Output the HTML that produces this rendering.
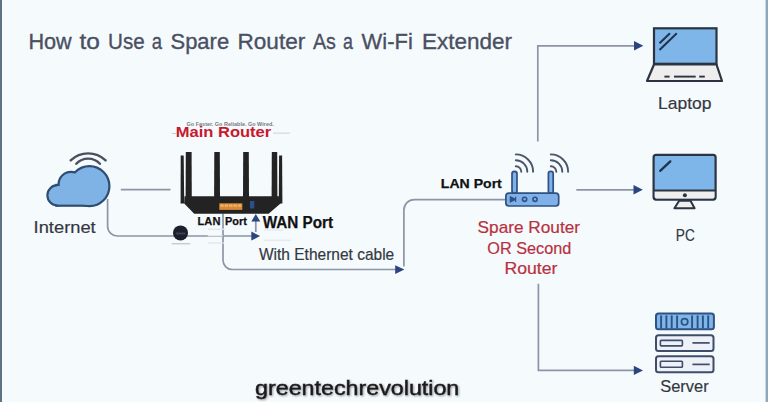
<!DOCTYPE html>
<html><head><meta charset="utf-8">
<style>
html,body{margin:0;padding:0;width:768px;height:402px;overflow:hidden;background:#f5fafd;}
svg{display:block;position:absolute;left:0;top:0;}
text{font-family:"Liberation Sans",sans-serif;}
</style></head>
<body>
<svg width="768" height="402" viewBox="0 0 768 402">
  <rect x="0" y="0" width="768" height="402" fill="#f5fafd"/>
  <rect x="0" y="0" width="2" height="402" fill="#5f7282"/>
  <rect x="765.6" y="0" width="2.4" height="402" fill="#8ea7bc"/>

  <!-- Title -->
  <g fill="#4a4f62" stroke="#4a4f62" stroke-width="0.35">
    <text id="tw0" font-size="22.91" x="28.40" y="48.80" textLength="43.30" lengthAdjust="spacingAndGlyphs">How</text>
    <text id="tw1" font-size="22.91" x="79.50" y="48.80" textLength="20.40" lengthAdjust="spacingAndGlyphs">to</text>
    <text id="tw2" font-size="22.91" x="108.10" y="48.80" textLength="36.60" lengthAdjust="spacingAndGlyphs">Use</text>
    <text id="tw3" font-size="22.91" x="151.80" y="48.80" textLength="10.30" lengthAdjust="spacingAndGlyphs">a</text>
    <text id="tw4" font-size="22.91" x="170.50" y="48.80" textLength="58.60" lengthAdjust="spacingAndGlyphs">Spare</text>
    <text id="tw5" font-size="22.91" x="237.50" y="48.80" textLength="67.80" lengthAdjust="spacingAndGlyphs">Router</text>
    <text id="tw6" font-size="22.91" x="312.90" y="48.80" textLength="23.00" lengthAdjust="spacingAndGlyphs">As</text>
    <text id="tw7" font-size="22.91" x="343.10" y="48.80" textLength="9.90" lengthAdjust="spacingAndGlyphs">a</text>
    <text id="tw8" font-size="22.91" x="361.60" y="48.80" textLength="51.20" lengthAdjust="spacingAndGlyphs">Wi-Fi</text>
    <text id="tw9" font-size="22.91" x="422.00" y="48.80" textLength="90.10" lengthAdjust="spacingAndGlyphs">Extender</text>
  </g>
  <!-- connector lines -->
  <g fill="none" stroke="#8d94a6" stroke-width="1.7">
    <!-- cloud to main router horizontal -->
    <line x1="120.8" y1="189.7" x2="170.5" y2="189.7"/>
    <!-- cloud bottom down then right to WAN arrow -->
    <path d="M107.6 199 V226.3 A9.7 9.7 0 0 0 117.3 236 H252"/>
    <!-- WAN up arrow shaft -->
    <line x1="255.8" y1="220" x2="255.8" y2="232"/>
    <!-- LAN port down, across to spare router -->
    <path d="M223 213.5 V260.3 A9.2 9.2 0 0 0 232.2 269.5 H396"/>
    <path d="M403.9 266.5 V210 A10.4 10.4 0 0 1 414.3 199.6 H506"/>
    <!-- spare router to PC -->
    <line x1="576.3" y1="189.8" x2="636" y2="189.8"/>
    <!-- vertical trunk up to laptop -->
    <path d="M537.8 141.6 V45.8 H636"/>
    <!-- down to server -->
    <path d="M538.4 283.8 V370.4 H636"/>
  </g>
  <g fill="#2d457f">
    <path d="M404.4 269.6 L395.2 265.2 L395.2 274 Z"/>
    <path d="M643.3 45.8 L634 41.1 L634 50.5 Z"/>
    <path d="M642.8 189.8 L633.5 185.1 L633.5 194.5 Z"/>
    <path d="M643 370.4 L633.8 365.7 L633.8 375.1 Z"/>
    <path d="M260.1 236.1 L251.3 231.6 L251.3 240.6 Z"/>
    <path d="M255.8 214.1 L251.3 221.4 L260.3 221.4 Z"/>
  </g>

  <!-- Cloud -->
  <g stroke="#2f4d70" stroke-width="4.4" fill="#2f4d70">
    <circle cx="57.5" cy="195.3" r="9"/>
    <circle cx="71" cy="184.2" r="11.3"/>
    <circle cx="89.4" cy="186.2" r="18.9"/>
    <rect x="57.5" y="186" width="33" height="18.6"/>
  </g>
  <g fill="#7fb3e6">
    <circle cx="57.5" cy="195.3" r="9"/>
    <circle cx="71" cy="184.2" r="11.3"/>
    <circle cx="89.4" cy="186.2" r="18.9"/>
    <rect x="57.5" y="186" width="33" height="18.6"/>
  </g>
  <g fill="none" stroke="#4a505e" stroke-width="2.4" stroke-linecap="round">
    <path d="M70.7 160.4 A25.2 25.2 0 0 1 105.6 160.4"/>
    <path d="M76.3 163.8 A16.1 16.1 0 0 1 99.9 163.8"/>
  </g>
  <text id="t_internet" x="33.60" y="232.70" font-size="17.17" fill="#34373f" stroke="#34373f" stroke-width="0.18" textLength="62.10" lengthAdjust="spacingAndGlyphs">Internet</text>

  <!-- Main router image -->
  <text id="t_go" x="186.60" y="126.00" font-size="5.70" font-weight="bold" fill="#777b80" textLength="87.20" lengthAdjust="spacingAndGlyphs">Go Faster. Go Reliable. Go Wired.</text>
  <rect x="172" y="133" width="4" height="1" fill="#c9c9cc"/>
  <rect x="273" y="132.6" width="17" height="1.1" fill="#d2d3d7"/>
  <text id="t_main" x="175.80" y="137.40" font-size="15.38" font-weight="bold" fill="#c8182e" textLength="95.40" lengthAdjust="spacingAndGlyphs">Main Router</text>
  <g fill="#232323">
    <path d="M180.7 155.4 L183.7 155.4 L184.2 203.5 L180.6 203.5 Z"/>
    <path d="M185.8 152.1 L191.6 152.1 L191.8 200 L185.6 200 Z"/>
    <path d="M214.3 152.1 L219.8 152.1 L220 200 L214.1 200 Z"/>
    <path d="M243.2 152.1 L248.8 152.1 L249 200 L243 200 Z"/>
    <path d="M271.8 152.1 L277.2 152.1 L277.4 200 L271.6 200 Z"/>
    <path d="M279.1 155.6 L282.1 155.6 L282.4 203.5 L278.8 203.5 Z"/>
    <path d="M184.5 196.3 H280.5 V203.5 L268.6 213.7 H194.2 L184.2 203.5 Z"/>
  </g>
  <rect x="219.3" y="203.3" width="23" height="6.6" fill="#d98a35"/>
  <g fill="#f0b46a">
    <rect x="220.3" y="204.5" width="3.4" height="2.2"/>
    <rect x="224.7" y="204.5" width="3.4" height="2.2"/>
    <rect x="229.1" y="204.5" width="3.4" height="2.2"/>
    <rect x="233.5" y="204.5" width="3.4" height="2.2"/>
    <rect x="237.9" y="204.5" width="3.4" height="2.2"/>
  </g>
  <rect x="250" y="201" width="4.3" height="7.5" fill="#2a4f8a"/>
  <g fill="#e4e7ec">
    <rect x="207.8" y="228.6" width="17" height="1.4"/>
    <rect x="207.8" y="235" width="15" height="1.4"/>
    <rect x="207.8" y="242.3" width="16" height="1.4"/>
    <rect x="264.3" y="229.4" width="19" height="1.2"/>
    <rect x="264.3" y="239.7" width="26.5" height="1.2"/>
  </g>
  <rect x="171.8" y="243.3" width="18.5" height="1" fill="#b4b8c0"/>
  <circle cx="180.5" cy="232.9" r="7.5" fill="#1b202c"/>
  <rect x="175.8" y="232.6" width="9.6" height="1.8" fill="#3c4456"/>
  <text id="t_lan1a" x="197.60" y="225.10" font-size="11.20" font-weight="bold" fill="#111" stroke="#111" stroke-width="0.25" textLength="22.80" lengthAdjust="spacingAndGlyphs">LAN</text>
  <text id="t_lan1b" x="225.00" y="225.10" font-size="11.20" font-weight="bold" fill="#111" stroke="#111" stroke-width="0.25" textLength="21.90" lengthAdjust="spacingAndGlyphs">Port</text>
  <text id="t_wan" x="262.70" y="227.60" font-size="15.81" font-weight="bold" fill="#111" stroke="#111" stroke-width="0.25" textLength="70.40" lengthAdjust="spacingAndGlyphs">WAN Port</text>
  <text id="t_eth" x="259.00" y="260.30" font-size="15.79" fill="#34373f" stroke="#34373f" stroke-width="0.18" textLength="135.20" lengthAdjust="spacingAndGlyphs">With Ethernet cable</text>

  <!-- Spare router -->
  <text id="t_lan2" x="440.80" y="188.48" font-size="13.60" font-weight="bold" fill="#111" stroke="#111" stroke-width="0.25" textLength="61.00" lengthAdjust="spacingAndGlyphs">LAN Port</text>
  <g stroke="#2e5082" stroke-width="1.7" fill="#7fb0e8">
    <rect x="512" y="171.4" width="5" height="22" rx="2.4"/>
    <rect x="548.4" y="171.4" width="4.8" height="22" rx="2.2"/>
    <rect x="505.9" y="193.2" width="52.8" height="12.8" rx="3"/>
  </g>
  <g fill="none" stroke="#4a5568" stroke-width="1.9" stroke-linecap="round">
    <path d="M515.8 166.2 A5.5 5.5 0 0 1 521.3 171.7"/>
    <path d="M515.8 160.2 A11.5 11.5 0 0 1 527.3 171.7"/>
    <path d="M515.8 154.4 A17.3 17.3 0 0 1 533.1 171.7"/>
    <path d="M550.8 166.2 A5.5 5.5 0 0 1 556.3 171.7"/>
    <path d="M550.8 160.2 A11.5 11.5 0 0 1 562.3 171.7"/>
    <path d="M550.8 154.4 A17.3 17.3 0 0 1 568.1 171.7"/>
  </g>
  <path d="M510.3 196.8 L515.3 199.4 L510.3 202 Z" fill="#2e5082" stroke="#2e5082" stroke-width="1.2" stroke-linejoin="round"/>
  <line x1="515.6" y1="196.8" x2="515.6" y2="202" stroke="#2e5082" stroke-width="1.2"/>
  <circle cx="524.6" cy="199.3" r="2.1" fill="none" stroke="#2e5082" stroke-width="1.6"/>
  <circle cx="535" cy="199.3" r="2.1" fill="none" stroke="#2e5082" stroke-width="1.6"/>
  <g fill="#b9303f" stroke="#b9303f" stroke-width="0.2">
    <text id="t_sp1" font-size="16.98" x="477.60" y="232.90" textLength="102.40" lengthAdjust="spacingAndGlyphs">Spare Router</text>
    <text id="t_sp2" font-size="16.98" x="487.30" y="254.20" textLength="84.00" lengthAdjust="spacingAndGlyphs">OR Second</text>
    <text id="t_sp3" font-size="16.98" x="504.40" y="274.40" textLength="53.00" lengthAdjust="spacingAndGlyphs">Router</text>
  </g>

  <!-- Laptop -->
  <rect x="654" y="28.3" width="62.5" height="35.5" fill="#7fb6ea" stroke="#2b3440" stroke-width="2.2"/>
  <path d="M654 64.5 H716.5 L722 81 H647 Z" fill="#eeeeee" stroke="#2b3440" stroke-width="2.2" stroke-linejoin="round"/>
  <g stroke="#22344d" stroke-width="2.1">
    <line x1="659.5" y1="43.3" x2="670" y2="33.3"/>
    <line x1="659.5" y1="50" x2="676.8" y2="33.3"/>
  </g>
  <g stroke="#2b3440" stroke-width="1.9">
    <line x1="664.4" y1="76.6" x2="669.6" y2="76.6"/>
    <line x1="674" y1="76.6" x2="695.7" y2="76.6"/>
    <line x1="699.2" y1="76.6" x2="704.8" y2="76.6"/>
  </g>
  <text id="t_laptop" x="658.10" y="109.10" font-size="17.01" fill="#34373f" stroke="#34373f" stroke-width="0.18" textLength="53.40" lengthAdjust="spacingAndGlyphs">Laptop</text>

  <!-- PC -->
  <rect x="653.6" y="154.8" width="62" height="44.8" rx="2.5" fill="#7fb6ea" stroke="#2b3440" stroke-width="2.2"/>
  <path d="M654.7 190.6 H714.5 V196.5 Q714.5 198.5 712.5 198.5 H656.7 Q654.7 198.5 654.7 196.5 Z" fill="#eeeeee"/>
  <line x1="654" y1="190.4" x2="715.5" y2="190.4" stroke="#2b3440" stroke-width="2"/>
  <circle cx="684.9" cy="195.3" r="2" fill="#2b3440"/>
  <path d="M679.2 200.8 H690.5 L694.6 208.3 H674.4 Z" fill="#eeeeee" stroke="#2b3440" stroke-width="2" stroke-linejoin="round"/>
  <line x1="660.2" y1="170.8" x2="670.3" y2="161.4" stroke="#22344d" stroke-width="2.4" stroke-linecap="round"/>
  <text id="t_pc" x="675.80" y="241.20" font-size="17.21" fill="#34373f" stroke="#34373f" stroke-width="0.18" textLength="19.00" lengthAdjust="spacingAndGlyphs">PC</text>

  <!-- Server -->
  <rect x="656" y="313.4" width="57.9" height="15.9" rx="2.5" fill="#7fb6ea" stroke="#2f5283" stroke-width="2"/>
  <rect x="656" y="335.2" width="57.5" height="15.9" rx="2.5" fill="#eef1f8" stroke="#3e4d6a" stroke-width="2"/>
  <rect x="656" y="356.3" width="57.5" height="15.9" rx="2.5" fill="#eef1f8" stroke="#3e4d6a" stroke-width="2"/>
  <g stroke="#2f5283" stroke-width="1.9" stroke-linecap="round">
    <line x1="661.1" y1="316.3" x2="661.1" y2="327.6"/>
    <line x1="666.4" y1="316.3" x2="666.4" y2="327.6"/>
    <line x1="671.7" y1="316.3" x2="671.7" y2="327.6"/>
    <line x1="677.1" y1="316.3" x2="677.1" y2="327.6"/>
    <line x1="692.1" y1="316.3" x2="692.1" y2="327.6"/>
    <line x1="697.6" y1="316.3" x2="697.6" y2="327.6"/>
    <line x1="702.9" y1="316.3" x2="702.9" y2="327.6"/>
    <line x1="708.2" y1="316.3" x2="708.2" y2="327.6"/>
  </g>
  <circle cx="684.6" cy="321.8" r="3.2" fill="none" stroke="#2f5283" stroke-width="1.7"/>
  <g fill="none" stroke="#3e4d6a" stroke-width="1.6">
    <rect x="660.4" y="340.4" width="22" height="5.5" rx="0.8"/>
    <rect x="660.4" y="361.3" width="22" height="5.9" rx="0.8"/>
  </g>
  <g stroke="#3e4d6a" stroke-width="1.7">
    <line x1="692.4" y1="342.9" x2="709.7" y2="342.9"/>
    <line x1="692.4" y1="364.4" x2="709.7" y2="364.4"/>
  </g>
  <text id="t_server" x="660.20" y="391.50" font-size="16.93" fill="#34373f" stroke="#34373f" stroke-width="0.18" textLength="48.50" lengthAdjust="spacingAndGlyphs">Server</text>

  <!-- watermark -->
  <text id="t_wm" x="255.10" y="394.80" font-size="21.12" fill="#1a1a1a" stroke="#1a1a1a" stroke-width="0.45" textLength="204.20" lengthAdjust="spacingAndGlyphs" style="filter:drop-shadow(1.2px 1.6px 1px rgba(0,0,0,0.4))">greentechrevolution</text>
</svg>
</body></html>
